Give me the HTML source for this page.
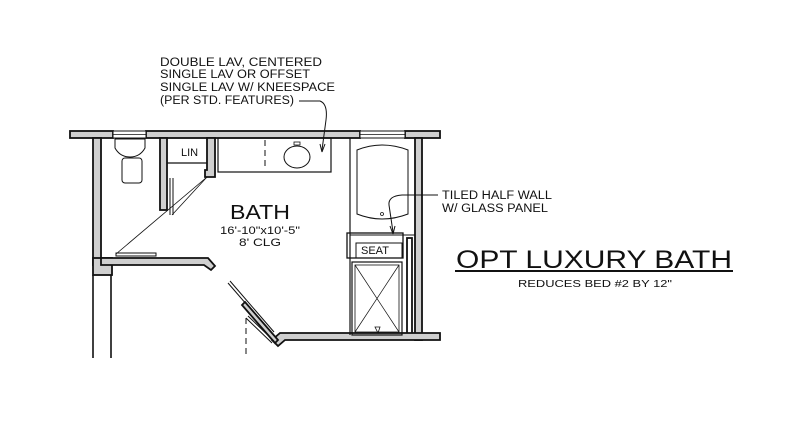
<!DOCTYPE html>
<html><head><style>
html,body{margin:0;padding:0;background:#fff;}
svg{display:block;}
text{font-family:"Liberation Sans",sans-serif;fill:#111;}
</style></head><body>
<svg width="800" height="426" viewBox="0 0 800 426" xmlns="http://www.w3.org/2000/svg">
<g stroke="#111" stroke-width="1.8" fill="#cfcfcf">
<rect x="70" y="131" width="43" height="7"/>
<rect x="146" y="131" width="214" height="7"/>
<rect x="405" y="131" width="35" height="7"/>
<rect x="113" y="131" width="33" height="7" fill="#fff" stroke-width="1"/>
<line x1="113" y1="134.5" x2="146" y2="134.5" stroke-width="0.8"/>
<rect x="360" y="131" width="45" height="7" fill="#fff" stroke-width="1"/>
<line x1="360" y1="134.5" x2="405" y2="134.5" stroke-width="0.8"/>
<rect x="93" y="138" width="8" height="127"/>
<rect x="93" y="258" width="19" height="17"/>
<path d="M101 258 H208 L215 266 L211 270 L204 265 H101 Z"/>
<rect x="160" y="138" width="7" height="72"/>
<path d="M207 138 H215 V177 H205 V170 H207 Z"/>
<rect x="415" y="138" width="7" height="202"/>
<rect x="407" y="238" width="5" height="97" fill="#fff"/>
<path d="M280 333 H440 V340 H285 L278 346 L272 340 Z"/>
</g>
<g stroke="#111" fill="none" stroke-width="1.6">
<line x1="93" y1="275" x2="93" y2="358"/>
<line x1="111" y1="275" x2="111" y2="358"/>
<line x1="228" y1="283" x2="272" y2="334" stroke-width="1"/>
<line x1="230" y1="281" x2="274" y2="332" stroke-width="1"/>
<path d="M245 302 L278 340 L275 343 L242 305 Z" fill="#cfcfcf" stroke-width="1.8"/>
<line x1="246" y1="318" x2="272" y2="343" stroke-width="1"/>
<line x1="248" y1="316" x2="274" y2="341" stroke-width="1"/>
<line x1="246" y1="318" x2="246" y2="358" stroke-width="1" stroke-dasharray="6,4"/>
<line x1="170" y1="178" x2="170" y2="215" stroke-width="1"/>
<line x1="173" y1="178" x2="173" y2="215" stroke-width="1"/>
<line x1="172" y1="215" x2="207" y2="177" stroke-width="0.8"/>
<line x1="116" y1="254" x2="207" y2="177" stroke-width="0.8"/>
<rect x="116" y="253" width="40" height="3" stroke-width="1"/>
<line x1="167" y1="163" x2="207" y2="163" stroke-width="1.2"/>
<path d="M115 139 H145 V148 Q140 157 130 157 Q120 157 115 148 Z" stroke-width="1"/>
<rect x="122" y="158" width="20" height="25" rx="3" stroke-width="1"/>
<rect x="218" y="138" width="113" height="34" stroke-width="1.2"/>
<line x1="265" y1="140" x2="265" y2="170" stroke-width="1" stroke-dasharray="6,4"/>
<ellipse cx="297" cy="157" rx="13" ry="11" stroke-width="1"/>
<rect x="294" y="142" width="6" height="3" stroke-width="0.8"/>
<line x1="350" y1="138" x2="350" y2="335" stroke-width="1.2"/>
<rect x="350" y="138" width="65" height="97" stroke-width="1"/>
<path d="M357 150 Q382 140 408 150 V214 Q382 224 357 214 Z" stroke-width="1"/>
<circle cx="382" cy="214" r="1.5" stroke-width="0.8"/>
<rect x="347" y="233" width="56" height="25" stroke-width="1.3"/>
<rect x="356" y="243" width="46" height="15" stroke-width="1"/>
<rect x="352" y="262" width="50" height="73" stroke-width="1.2"/>
<rect x="355" y="265" width="44" height="67" stroke-width="0.8"/>
<line x1="355" y1="265" x2="399" y2="332" stroke-width="0.7"/>
<line x1="399" y1="265" x2="355" y2="332" stroke-width="0.7"/>
<path d="M375 327 H380 L378 333 Z" stroke-width="0.8"/>
<path d="M299 101 H320 Q328 104 326 120 L322 150" stroke-width="1"/>
<path d="M322 152 L320 144 M322 152 L325 144" stroke-width="1"/>
<path d="M438 195 H402 Q388 196 389 205 L393 232" stroke-width="1"/>
<path d="M393 234 L390 226 M393 234 L395 226" stroke-width="1"/>
<line x1="455" y1="271" x2="733" y2="271" stroke-width="2"/>
</g>
<g font-size="11.5">
<text x="160" y="66" textLength="162" lengthAdjust="spacingAndGlyphs">DOUBLE LAV, CENTERED</text>
<text x="160" y="78" textLength="150" lengthAdjust="spacingAndGlyphs">SINGLE LAV OR OFFSET</text>
<text x="160" y="91" textLength="175" lengthAdjust="spacingAndGlyphs">SINGLE LAV W/ KNEESPACE</text>
<text x="160" y="104" textLength="134" lengthAdjust="spacingAndGlyphs">(PER STD. FEATURES)</text>
<text x="442" y="199" textLength="110" lengthAdjust="spacingAndGlyphs">TILED HALF WALL</text>
<text x="442" y="212" textLength="106" lengthAdjust="spacingAndGlyphs">W/ GLASS PANEL</text>
</g>
<text x="181" y="156" font-size="11">LIN</text>
<text x="361" y="254" font-size="11">SEAT</text>
<text x="260" y="219" font-size="20" text-anchor="middle" textLength="60" lengthAdjust="spacingAndGlyphs">BATH</text>
<text x="260" y="234" font-size="11" text-anchor="middle" textLength="80" lengthAdjust="spacingAndGlyphs">16'-10"x10'-5"</text>
<text x="260" y="246" font-size="11" text-anchor="middle" textLength="42" lengthAdjust="spacingAndGlyphs">8' CLG</text>
<text x="594" y="268" font-size="25" text-anchor="middle" textLength="276" lengthAdjust="spacingAndGlyphs">OPT LUXURY BATH</text>
<text x="595" y="287" font-size="10" text-anchor="middle" textLength="154" lengthAdjust="spacingAndGlyphs">REDUCES BED #2 BY 12"</text>
</svg>
</body></html>
